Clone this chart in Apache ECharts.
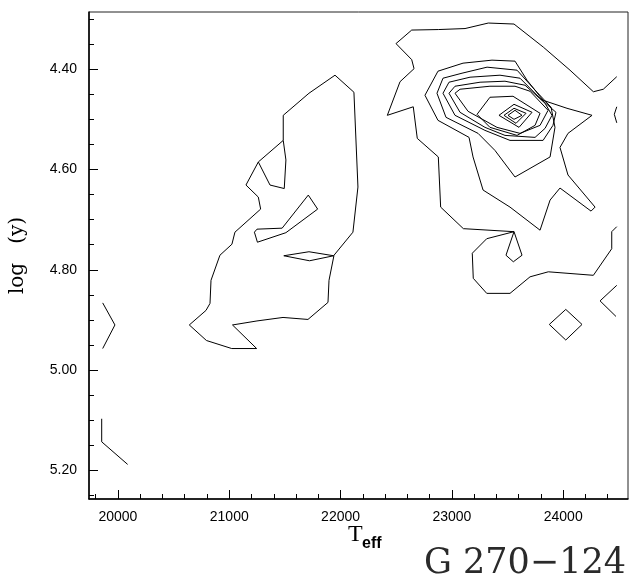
<!DOCTYPE html>
<html>
<head>
<meta charset="utf-8">
<script src="https://cdn.jsdelivr.net/npm/echarts@6.0.0/dist/echarts.min.js"></script>
<style>
  html, body { margin: 0; padding: 0; background: #fff; }
  #chart { width: 631px; height: 586px; }
</style>
</head>
<body>
<div id="chart"></div>
<script>
// axis ticks
const xMajor = [20000, 21000, 22000, 23000, 24000];
const xMinor = [19800, 20000, 20200, 20400, 20600, 20800, 21000, 21200, 21400, 21600, 21800,
  22000, 22200, 22400, 22600, 22800, 23000, 23200, 23400, 23600, 23800, 24000, 24200, 24400];
const yMajor = [4.40, 4.60, 4.80, 5.00, 5.20];
const yMinor = [4.30, 4.35, 4.40, 4.45, 4.50, 4.55, 4.60, 4.65, 4.70, 4.75, 4.80,
  4.85, 4.90, 4.95, 5.00, 5.05, 5.10, 5.15, 5.20, 5.25];

// contour lines, [Teff, log y]
const leftOuter = [[21950,4.412],[22120,4.446],[22156,4.635],[22111,4.725],[21941,4.771],
  [21896,4.821],[21887,4.865],[21707,4.899],[21483,4.895],[21249,4.902],[21029,4.910],
  [21246,4.957],[21022,4.957],[20795,4.941],[20641,4.910],[20791,4.881],[20827,4.867],
  [20836,4.821],[20916,4.771],[21024,4.749],[21051,4.725],[21282,4.679],[21261,4.655],
  [21150,4.631],[21261,4.585],[21485,4.542],[21485,4.492],[21716,4.448],[21950,4.412]];
const leftInner = [[21261,4.585],[21366,4.631],[21494,4.638],[21509,4.581],[21485,4.542]];
const leftFish = [[21710,4.651],[21794,4.679],[21509,4.726],[21253,4.745],[21226,4.725],
  [21249,4.719],[21475,4.717],[21710,4.651]];
const leftDiamond = [[21490,4.772],[21716,4.764],[21938,4.772],[21721,4.782],[21490,4.772]];
const edgeA = [[19863,4.866],[19973,4.910],[19863,4.957]];
const edgeB = [[19854,5.097],[19854,5.143],[20087,5.188]];

const ring1 = [[24481,4.415],[24360,4.440],[24271,4.445],[24061,4.402],[23821,4.356],
  [23558,4.310],[23327,4.308],[23118,4.319],[22878,4.321],[22639,4.322],[22498,4.349],
  [22639,4.381],[22660,4.399],[22534,4.425],[22420,4.492],[22653,4.475],[22689,4.538],
  [22878,4.575],[22899,4.675],[23103,4.718],[23558,4.724],[23486,4.771],[23552,4.784],
  [23630,4.771],[23558,4.724],[23313,4.738],[23183,4.767],[23192,4.817],[23313,4.847],
  [23522,4.847],[23702,4.814],[23866,4.804],[24271,4.811],[24436,4.758],[24436,4.724],
  [24481,4.714]];
const ring2 = [[22758,4.452],[22875,4.404],[23100,4.388],[23360,4.382],[23567,4.384],
  [23675,4.422],[23819,4.462],[24034,4.478],[24259,4.492],[24043,4.528],[23971,4.556],
  [24043,4.611],[24286,4.675],[24250,4.683],[23971,4.637],[23882,4.661],[23792,4.721],
  [23522,4.675],[23280,4.641],[23190,4.575],[23154,4.536],[22875,4.502],[22758,4.452]];
const ring3 = [[22866,4.448],[22920,4.418],[23091,4.408],[23316,4.396],[23585,4.402],
  [23765,4.446],[23891,4.476],[23926,4.516],[23882,4.575],[23567,4.615],[23387,4.562],
  [23235,4.528],[22947,4.496],[22866,4.448]];
const ring4 = [[22920,4.448],[22974,4.426],[23163,4.416],[23432,4.412],[23612,4.418],
  [23792,4.458],[23935,4.486],[23908,4.512],[23819,4.542],[23522,4.542],[23297,4.522],
  [23028,4.492],[22920,4.448]];
const ring5 = [[22974,4.448],[23028,4.434],[23253,4.426],[23477,4.424],[23657,4.432],
  [23837,4.468],[23899,4.492],[23837,4.518],[23747,4.536],[23477,4.532],[23297,4.516],
  [23073,4.486],[22974,4.448]];
const ring6 = [[23028,4.448],[23073,4.440],[23342,4.434],[23567,4.434],[23702,4.444],
  [23864,4.482],[23792,4.512],[23612,4.528],[23405,4.516],[23145,4.484],[23028,4.448]];
const ring7 = [[23226,4.490],[23342,4.456],[23549,4.454],[23792,4.488],[23747,4.512],
  [23585,4.532],[23342,4.516],[23226,4.490]];
const ring8 = [[23423,4.492],[23558,4.470],[23720,4.486],[23603,4.516],[23423,4.492]];
const ring9 = [[23468,4.492],[23558,4.478],[23666,4.488],[23576,4.508],[23468,4.492]];
const ring10 = [[23504,4.492],[23567,4.482],[23630,4.492],[23558,4.500],[23504,4.492]];
const rightArc = [[24481,4.475],[24459,4.490],[24481,4.507]];
const rightWedge = [[24481,4.831],[24331,4.862],[24474,4.893]];
const rightDiamond = [[23875,4.909],[24023,4.879],[24169,4.909],[24023,4.940],[23875,4.909]];

const contours = [leftOuter, leftInner, leftFish, leftDiamond, edgeA, edgeB,
  ring1, ring2, ring3, ring4, ring5, ring6, ring7, ring8, ring9, ring10,
  rightArc, rightWedge, rightDiamond];

const chart = echarts.init(document.getElementById('chart'), null, { renderer: 'canvas' });

const labelFont = { color: '#000', fontFamily: 'Liberation Sans', fontSize: 14 };
const xRange = { min: 19740, max: 24582 };
const yRange = { min: 4.286, max: 5.257 };

const option = {
  animation: false,
  backgroundColor: '#fff',
  grid: {
    left: 89, right: 3, top: 12, bottom: 87,
    show: true, borderColor: '#222', borderWidth: 1
  },
  xAxis: [
    {
      type: 'value', ...xRange, position: 'bottom',
      axisLine: { show: true, lineStyle: { color: '#000', width: 1.5 } },
      axisTick: { show: true, inside: true, length: 9, customValues: xMajor, lineStyle: { color: '#000' } },
      axisLabel: { ...labelFont, margin: 11, customValues: xMajor, formatter: v => String(v) },
      splitLine: { show: false }
    },
    {
      type: 'value', ...xRange, position: 'bottom',
      axisLine: { show: false },
      axisTick: { show: true, inside: true, length: 5, customValues: xMinor, lineStyle: { color: '#000' } },
      axisLabel: { show: false },
      splitLine: { show: false }
    }
  ],
  yAxis: [
    {
      type: 'value', ...yRange, inverse: true, position: 'left',
      name: 'log   (y)', nameLocation: 'middle', nameRotate: 90, nameGap: 61,
      nameTextStyle: { color: '#000', fontFamily: 'DejaVu Serif', fontSize: 20 },
      axisLine: { show: true, lineStyle: { color: '#000', width: 1.5 } },
      axisTick: { show: true, inside: true, length: 9, customValues: yMajor, lineStyle: { color: '#000' } },
      axisLabel: { ...labelFont, margin: 12, customValues: yMajor, formatter: v => v.toFixed(2) },
      splitLine: { show: false }
    },
    {
      type: 'value', ...yRange, inverse: true, position: 'left',
      axisLine: { show: false },
      axisTick: { show: true, inside: true, length: 5, customValues: yMinor, lineStyle: { color: '#000' } },
      axisLabel: { show: false },
      splitLine: { show: false }
    }
  ],
  graphic: [
    { type: 'text', left: 348, top: 523, silent: true,
      style: { text: 'T', fill: '#000', font: '24px "Liberation Serif"' } },
    { type: 'text', left: 362, top: 536, silent: true,
      style: { text: 'eff', fill: '#000', font: 'bold 16px "Liberation Sans"' } },
    { type: 'text', right: 5, top: 546, silent: true,
      style: { text: 'G 270\u2212124', fill: '#2a2a2a', font: '35px "DejaVu Serif"' } }
  ],
  series: contours.map((c, i) => ({
    type: 'line',
    name: 'c' + i,
    data: c,
    showSymbol: false,
    symbol: 'none',
    silent: true,
    lineStyle: { color: '#000', width: 1 },
    z: 3
  }))
};

chart.setOption(option);
</script>
</body>
</html>
